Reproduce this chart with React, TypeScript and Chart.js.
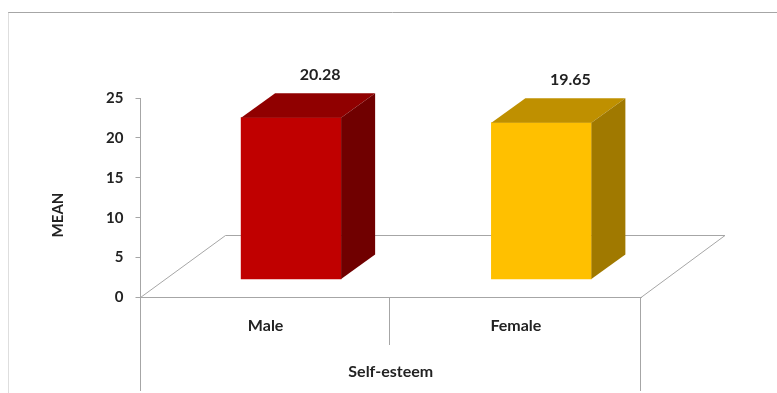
import React, { useEffect, useRef } from "react";
import { Chart, registerables } from "chart.js";

Chart.register(...registerables);

const categories = ["Male", "Female"];
const meanValues = [20.28, 19.65];
const frontColors = ["#C00000", "#FFC000"];
const topColors = ["#900000", "#BF9000"];
const sideColors = ["#700000", "#A07900"];
const yAxisTitle = "MEAN";
const xAxisTitle = "Self-esteem";

const LINE = "#A6A6A6";
const TEXT = "#222222";
const FONT_FAMILY = "Lato, 'Noto Sans', sans-serif";
const TICK_FONT = { family: FONT_FAMILY, size: 15, weight: "bold" as const };
const LABEL_FONT = { family: FONT_FAMILY, size: 16, weight: "bold" as const };

// Oblique projection: how far the floor and the box depth recede.
const FLOOR_DX = 85;
const FLOOR_DY = 62;
const BAR_SHIFT_X = 25.5;
const BAR_SHIFT_Y = 18;
const BOX_DX = 34;
const BOX_DY = 24.5;

const box3d = {
  id: "box3d",
  beforeDatasetsDraw(chart: any) {
    const { ctx, chartArea: a } = chart;
    const x = chart.scales.x;
    const b = a.bottom;
    const leftLine = Math.floor(a.left) + 0.5;
    const rightLine = Math.floor(a.right) - 0.5;
    ctx.save();
    ctx.strokeStyle = LINE;
    ctx.lineWidth = 1;

    // Chart frame
    ctx.beginPath();
    ctx.moveTo(8, 12.5);
    ctx.lineTo(777, 12.5);
    ctx.stroke();
    ctx.save();
    ctx.setLineDash([1, 1]);
    ctx.strokeStyle = "#BDBDBD";
    ctx.beginPath();
    ctx.moveTo(8.5, 12.5);
    ctx.lineTo(8.5, 393);
    ctx.stroke();
    ctx.restore();

    // Floor plane
    ctx.beginPath();
    ctx.moveTo(a.left, b);
    ctx.lineTo(a.left + FLOOR_DX, b - FLOOR_DY);
    ctx.lineTo(a.right + FLOOR_DX - 1, b - FLOOR_DY);
    ctx.lineTo(a.right, b);
    ctx.stroke();

    // Category divider and outer drop lines
    const mid = Math.floor((x.getPixelForValue(0) + x.getPixelForValue(1)) / 2) - 0.5;
    ctx.beginPath();
    ctx.moveTo(mid, b);
    ctx.lineTo(mid, 345);
    ctx.moveTo(leftLine, b);
    ctx.lineTo(leftLine, 391);
    ctx.moveTo(rightLine, b);
    ctx.lineTo(rightLine, 391);
    ctx.stroke();
    ctx.restore();

    // Front faces stand inside the floor, so shift the whole bar layer back.
    ctx.save();
    ctx.translate(BAR_SHIFT_X, -BAR_SHIFT_Y);
  },
  afterDatasetsDraw(chart: any) {
    const { ctx } = chart;
    const meta = chart.getDatasetMeta(0);
    meta.data.forEach((bar: any, i: number) => {
      const left = bar.x - bar.width / 2;
      const right = bar.x + bar.width / 2;
      ctx.fillStyle = topColors[i];
      ctx.beginPath();
      ctx.moveTo(left, bar.y);
      ctx.lineTo(left + BOX_DX, bar.y - BOX_DY);
      ctx.lineTo(right + BOX_DX, bar.y - BOX_DY);
      ctx.lineTo(right, bar.y);
      ctx.closePath();
      ctx.fill();
      ctx.fillStyle = sideColors[i];
      ctx.beginPath();
      ctx.moveTo(right, bar.y);
      ctx.lineTo(right + BOX_DX, bar.y - BOX_DY);
      ctx.lineTo(right + BOX_DX, bar.base - BOX_DY);
      ctx.lineTo(right, bar.base);
      ctx.closePath();
      ctx.fill();

      // Value label above the box
      ctx.fillStyle = TEXT;
      ctx.font = `bold ${LABEL_FONT.size}px ${FONT_FAMILY}`;
      ctx.textAlign = "center";
      ctx.textBaseline = "middle";
      ctx.fillText(meanValues[i].toFixed(2), bar.x + 29, bar.y - 43);
    });
    ctx.restore();

    // The value axis title sits below the middle of the axis.
    ctx.save();
    ctx.fillStyle = TEXT;
    ctx.font = `bold ${TICK_FONT.size}px ${FONT_FAMILY}`;
    ctx.textAlign = "center";
    ctx.textBaseline = "middle";
    ctx.translate(58, 215);
    ctx.rotate(-Math.PI / 2);
    ctx.fillText(yAxisTitle, 0, 0);
    ctx.restore();
  },
};

export default function App() {
  const ref = useRef<HTMLCanvasElement>(null);

  useEffect(() => {
    const chart = new Chart(ref.current!, {
      type: "bar",
      data: {
        labels: categories,
        datasets: [
          {
            data: meanValues,
            backgroundColor: frontColors,
            barThickness: 100,
            clip: false,
          } as any,
        ],
      },
      options: {
        animation: false,
        responsive: false,
        devicePixelRatio: 1,
        layout: { padding: { top: 98, right: 136, left: 0, bottom: 0 } },
        plugins: { legend: { display: false }, tooltip: { enabled: false } },
        scales: {
          x: {
            afterFit(scale: any) {
              scale.height = 95.5;
            },
            grid: { display: false },
            border: { color: LINE, width: 1 },
            ticks: { color: TEXT, font: LABEL_FONT, padding: 11, maxRotation: 0 },
            title: {
              display: true,
              text: xAxisTitle,
              color: TEXT,
              font: LABEL_FONT,
              padding: { top: 0, bottom: 12 },
            },
          },
          y: {
            min: 0,
            max: 25,
            afterFit(scale: any) {
              scale.width = 140.5;
            },
            grid: { drawOnChartArea: false, color: LINE, tickLength: 5 },
            border: { color: LINE, width: 1 },
            ticks: { stepSize: 5, color: TEXT, font: TICK_FONT, padding: 12 },
          },
        },
      },
      plugins: [box3d],
    });
    return () => chart.destroy();
  }, []);

  return (
    <div style={{ position: "absolute", left: 0, top: 0, width: 777, height: 393, background: "#fff" }}>
      <canvas ref={ref} width={777} height={393} style={{ display: "block" }} />
    </div>
  );
}
